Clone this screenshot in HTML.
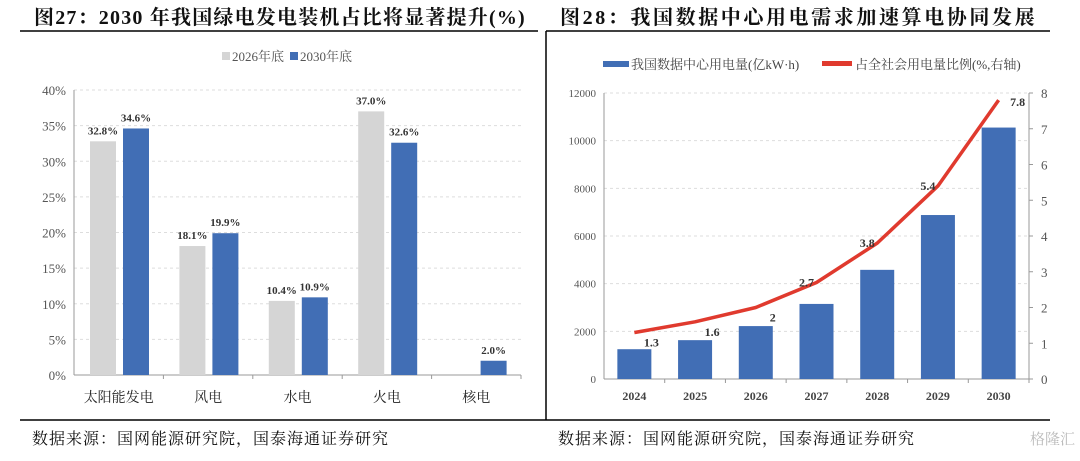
<!DOCTYPE html>
<html><head><meta charset="utf-8"><style>
body{margin:0;width:1080px;height:456px;background:#fff;overflow:hidden;font-family:"Liberation Serif","Noto Serif CJK SC",serif;}
svg text{font-family:"Liberation Serif","Noto Serif CJK SC",serif;}
</style></head><body>
<svg width="1080" height="456">
<text x="34" y="24" font-size="20" font-weight="bold" fill="#111" letter-spacing="1.2">图27：2030 年我国绿电发电装机占比将显著提升(%)</text>
<text x="560" y="24" font-size="20" font-weight="bold" fill="#111" letter-spacing="2.6">图28：我国数据中心用电需求加速算电协同发展</text>
<line x1="20" y1="31" x2="538" y2="31" stroke="#000" stroke-width="1.5"/>
<line x1="546" y1="31" x2="1050" y2="31" stroke="#000" stroke-width="1.5"/>
<line x1="546" y1="31" x2="546" y2="420" stroke="#000" stroke-width="1.5"/>
<line x1="20" y1="420" x2="1050" y2="420" stroke="#000" stroke-width="1.5"/>
<text x="32" y="444" font-size="16" fill="#111" letter-spacing="1">数据来源：国网能源研究院，国泰海通证券研究</text>
<text x="558" y="444" font-size="16" fill="#111" letter-spacing="1">数据来源：国网能源研究院，国泰海通证券研究</text>
<text x="1030" y="444" font-size="15" fill="#bbb">格隆汇</text>
<g id="left"></g>
<g id="right"></g>
</svg>
<script>
const leftCats=["太阳能发电","风电","水电","火电","核电"];
const val2026=[32.8,18.1,10.4,37.0,null];
const val2030=[34.6,19.9,10.9,32.6,2.0];
const leftTicks=[0,5,10,15,20,25,30,35,40];
const years=["2024","2025","2026","2027","2028","2029","2030"];
const dcPower=[1250,1630,2220,3150,4580,6880,10550];
const dcShare=[1.3,1.6,2,2.7,3.8,5.4,7.8];
const rightTicksL=[0,2000,4000,6000,8000,10000,12000];
const rightTicksR=[0,1,2,3,4,5,6,7,8];
const NS="http://www.w3.org/2000/svg";
function mk(p,t,a,txt){const e=document.createElementNS(NS,t);for(const k in a)e.setAttribute(k,a[k]);if(txt!==undefined)e.textContent=txt;p.appendChild(e);return e;}
// left chart
const L=document.getElementById('left');
const lx0=74,lx1=521,ly0=375,ly1=90;
const ly=v=>ly0-(v/40)*(ly0-ly1);
const cw=(lx1-lx0)/leftCats.length;
leftTicks.forEach(t=>{
 if(t>0){const g=mk(L,'line',{x1:lx0,x2:lx1,y1:ly(t),y2:ly(t),stroke:'#ddd','stroke-dasharray':'3,3'});
 }
 const e=mk(L,'text',{x:66,y:ly(t)+5,'text-anchor':'end','font-size':13,fill:'#555'},t+'%');
 
});
let a=mk(L,'line',{x1:lx0,x2:lx0,y1:ly1,y2:ly0,stroke:'#999'});
a=mk(L,'line',{x1:lx0,x2:lx1,y1:ly0,y2:ly0,stroke:'#999'});
leftCats.forEach((c,i)=>{
 const x=lx0+i*cw;
 const tk=mk(L,'line',{x1:x+cw,x2:x+cw,y1:ly0,y2:ly0+4,stroke:'#999'});
 const lb=mk(L,'text',{x:x+cw/2,y:402,'text-anchor':'middle','font-size':14,fill:'#222'},c);
 
 [[val2026[i],'#d5d5d5',16,'bar-2026'],[val2030[i],'#416eb5',49,'bar-2030']].forEach(([v,col,off,nm])=>{
  if(v==null)return;
  const r=mk(L,'rect',{x:x+off,y:ly(v),width:26,height:ly0-ly(v),fill:col});
  
  const t=mk(L,'text',{x:x+off+13,y:ly(v)-7,'text-anchor':'middle','font-size':11,'font-weight':'bold',fill:'#333'},v.toFixed(1)+'%');
  
 });
});
let lg=mk(L,'rect',{x:222,y:52,width:8,height:8,fill:'#d5d5d5'});
lg=mk(L,'text',{x:232,y:61,'font-size':13,fill:'#555'},'2026年底');
lg=mk(L,'rect',{x:290,y:52,width:8,height:8,fill:'#416eb5'});
lg=mk(L,'text',{x:300,y:61,'font-size':13,fill:'#555'},'2030年底');
// right chart
const R=document.getElementById('right');
const rx0=604,rx1=1029,ry0=379,ry1=93;
const yl=v=>ry0-(v/12000)*(ry0-ry1);
const yr=v=>ry0-(v/8)*(ry0-ry1);
const rw=(rx1-rx0)/years.length;
rightTicksL.forEach(t=>{
 if(t>0){const g=mk(R,'line',{x1:rx0,x2:rx1,y1:yl(t),y2:yl(t),stroke:'#ddd','stroke-dasharray':'3,3'});}
 const e=mk(R,'text',{x:596,y:yl(t)+4,'text-anchor':'end','font-size':11,fill:'#555'},t);
 
});
rightTicksR.forEach(t=>{
 const k=mk(R,'line',{x1:rx1,x2:rx1+4,y1:yr(t),y2:yr(t),stroke:'#999'});
 const e=mk(R,'text',{x:1041,y:yr(t)+5,'font-size':13,fill:'#555'},t);
 
});
a=mk(R,'line',{x1:rx0,x2:rx0,y1:ry1,y2:ry0,stroke:'#999'});
a=mk(R,'line',{x1:rx1,x2:rx1,y1:ry1,y2:ry0,stroke:'#999'});
a=mk(R,'line',{x1:rx0,x2:rx1,y1:ry0,y2:ry0,stroke:'#999'});
let pts=[];
years.forEach((y,i)=>{
 const cx=rx0+rw*(i+0.5);
 const tk=mk(R,'line',{x1:rx0+rw*(i+1),x2:rx0+rw*(i+1),y1:ry0,y2:ry0+4,stroke:'#999'});
 const b=mk(R,'rect',{x:cx-17,y:yl(dcPower[i]),width:34,height:ry0-yl(dcPower[i]),fill:'#416eb5'});
 
 const lb=mk(R,'text',{x:cx,y:400,'text-anchor':'middle','font-size':12,'font-weight':'bold',fill:'#444'},y);
 
 pts.push([cx,yr(dcShare[i])]);
});
const pl=mk(R,'polyline',{points:pts.map(p=>p.join(',')).join(' '),fill:'none',stroke:'#e03a2e','stroke-width':3.5,'stroke-linejoin':'round'});

pts.forEach((p,i)=>{
 let x,y;
 if(i<3){x=p[0]+17;y=p[1]+14;}
 else if(i<6){x=p[0]-10;y=p[1]+4;}
 else{x=p[0]+19;y=p[1]+6;}
 const t=mk(R,'text',{x:x,y:y,'text-anchor':'middle','font-size':12,'font-weight':'bold',fill:'#333'},dcShare[i]);
 
});
lg=mk(R,'rect',{x:603,y:61,width:26,height:6,fill:'#416eb5'});
lg=mk(R,'text',{x:631,y:69,'font-size':13,fill:'#444'},'我国数据中心用电量(亿kW·h)');
lg=mk(R,'rect',{x:822,y:61,width:30,height:5,fill:'#e03a2e'});
lg=mk(R,'text',{x:855,y:69,'font-size':13,fill:'#444'},'占全社会用电量比例(%,右轴)');
</script>
</body></html>
